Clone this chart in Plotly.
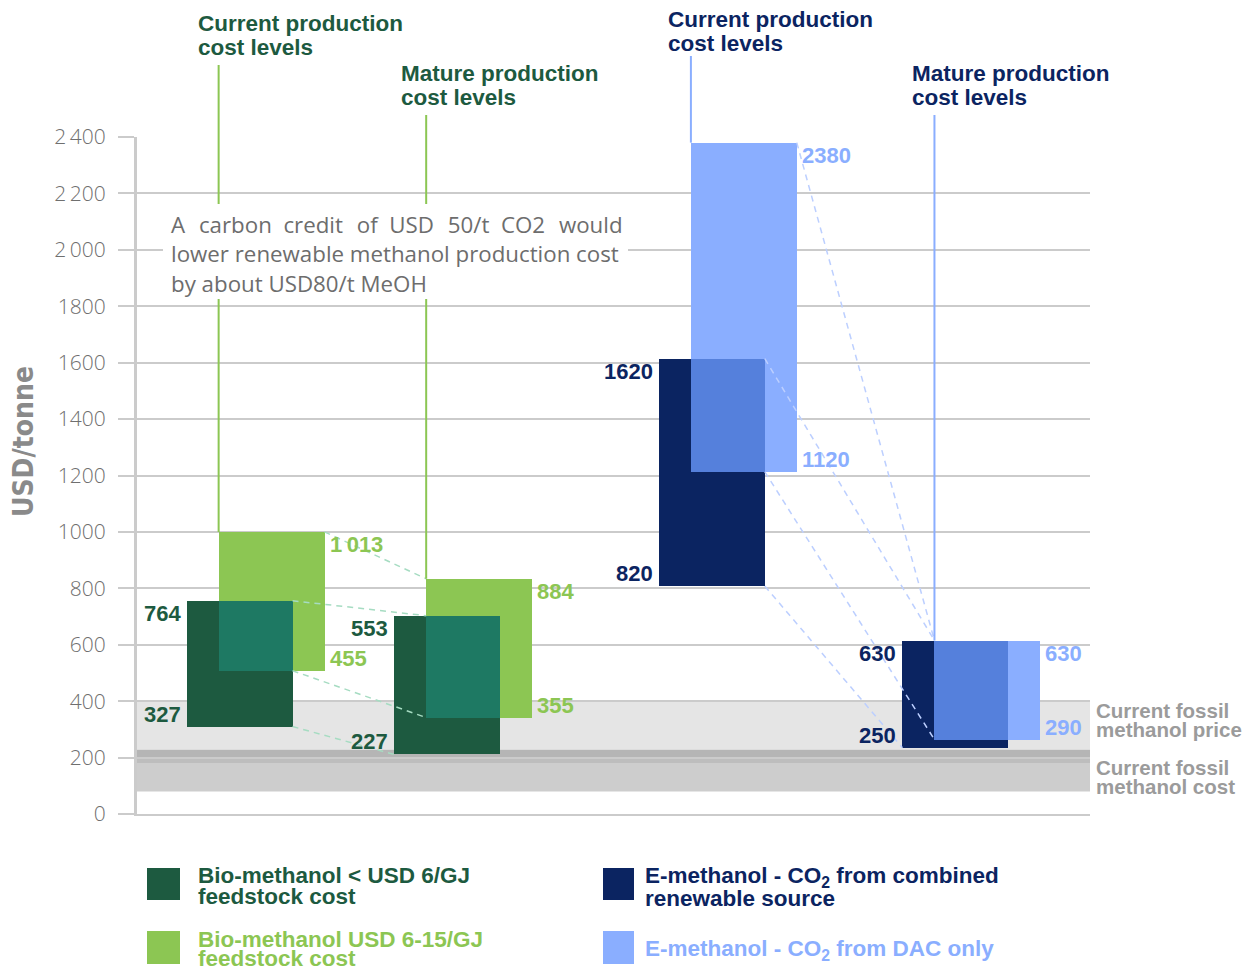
import plotly.graph_objects as go

# ---------------- data ----------------
stages = ["Current production cost levels", "Mature production cost levels"]

# ranges as drawn (USD/tonne) and their printed labels
bio_low_lo = [310, 211]
bio_low_hi = [756, 703]
bio_low_lo_lbl = ["327", "227"]
bio_low_hi_lbl = ["764", "553"]

bio_high_lo = [508, 342]
bio_high_hi = [1000, 834]
bio_high_lo_lbl = ["455", "355"]
bio_high_hi_lbl = ["1\u2009013", "884"]

e_comb_lo = [808, 235]
e_comb_hi = [1614, 615]
e_comb_lo_lbl = ["820", "250"]
e_comb_hi_lbl = ["1620", "630"]

e_dac_lo = [1213, 264]
e_dac_hi = [2380, 615]
e_dac_lo_lbl = ["1120", "290"]
e_dac_hi_lbl = ["2380", "630"]

fossil_price = [228, 400]
fossil_overlap_hi = [196, 228]
fossil_overlap_lo = [178, 196]
fossil_cost = [80, 178]

tick_vals = [0, 200, 400, 600, 800, 1000, 1200, 1400, 1600, 1800, 2000, 2200, 2400]
tick_text = ["0", "200", "400", "600", "800", "1000", "1200", "1400", "1600", "1800",
             "2\u2009000", "2\u2009200", "2\u2009400"]

legend_labels = [
    ["Bio-methanol < USD 6/GJ", "feedstock cost"],
    ["Bio-methanol USD 6-15/GJ", "feedstock cost"],
    ["E-methanol - CO<sub>2</sub> from combined", "renewable source"],
    ["E-methanol - CO<sub>2</sub> from DAC only"],
]
note_words = "A carbon credit of USD 50/t CO2 would".split(" ")
note_line1 = note_words[0]
for k, w in enumerate(note_words[1:]):
    note_line1 += ("\u00a0\u200a " if k % 2 == 0 else "\u00a0 ") + w
note_lines = [note_line1,
              "lower renewable methanol production cost",
              "by about USD80/t MeOH"]

# ---------------- styles / layout ----------------
W, H = 1250, 970
L, R, T, B = 137, 160, 137, 156
YMAX = 2400
XR = (0, 9)
C_DG, C_LG, C_TEAL = "#1d5a40", "#8cc653", "#1e7963"
C_NV, C_LB, C_MB = "#0b2461", "#8aaeff", "#5580dc"
C_GDASH, C_BDASH = "#a6dcc2", "#bccfff"
GRID = "#cbcbcb"

bio_pos = [1.12, 3.08]
e_pos = [5.58, 7.88]
OFF = 0.151
BW = 1.0

FONT = "Liberation Sans, Arial, sans-serif"


def px2x(px):
    return (px - L) / (W - L - R)


def py2y(py):
    return (H - B - py) / (H - T - B)


def d2px(xv):
    return (xv - XR[0]) / (XR[1] - XR[0])


fig = go.Figure()


def add_pair(pos, dlo, dhi, llo, lhi, cdark, clight, cover, name_d, name_l):
    xd = [p - OFF for p in pos]
    xl = [p + OFF for p in pos]
    fig.add_bar(x=xd, y=[h - l for l, h in zip(dlo, dhi)], base=dlo, width=BW,
                marker=dict(color=cdark, line=dict(width=0)), name=name_d)
    fig.add_bar(x=xl, y=[h - l for l, h in zip(llo, lhi)], base=llo, width=BW,
                marker=dict(color=clight, line=dict(width=0)), name=name_l)
    # overlap region
    for i, p in enumerate(pos):
        olo = max(dlo[i], llo[i])
        ohi = min(dhi[i], lhi[i])
        if ohi > olo:
            x0 = xl[i] - BW / 2
            x1 = xd[i] + BW / 2
            fig.add_bar(x=[(x0 + x1) / 2], y=[ohi - olo], base=[olo], width=x1 - x0,
                        marker=dict(color=cover, line=dict(width=0)), showlegend=False)
    return xd, xl


bxd, bxl = add_pair(bio_pos, bio_low_lo, bio_low_hi, bio_high_lo, bio_high_hi,
                    C_DG, C_LG, C_TEAL, "Bio-methanol < USD 6/GJ", "Bio-methanol USD 6-15/GJ")
exd, exl = add_pair(e_pos, e_comb_lo, e_comb_hi, e_dac_lo, e_dac_hi,
                    C_NV, C_LB, C_MB, "E-methanol combined", "E-methanol DAC")


def connectors(xd, xl, dlo, dhi, llo, lhi, color):
    segs = [
        ((xl[0] + BW / 2, lhi[0]), (xl[1] - BW / 2, lhi[1])),
        ((xd[0] + BW / 2, min(dhi[0], lhi[0])), (xl[1] - BW / 2, min(dhi[1], lhi[1]))),
        ((xd[0] + BW / 2, max(dlo[0], llo[0])), (xl[1] - BW / 2, max(dlo[1], llo[1]))),
        ((xd[0] + BW / 2, dlo[0]), (xd[1] - BW / 2, dlo[1])),
    ]
    for a, b in segs:
        fig.add_scatter(x=[a[0], b[0]], y=[a[1], b[1]], mode="lines",
                        line=dict(color=color, width=1.5, dash="6px,5px"),
                        hoverinfo="skip", showlegend=False)


connectors(bxd, bxl, bio_low_lo, bio_low_hi, bio_high_lo, bio_high_hi, C_GDASH)
connectors(exd, exl, e_comb_lo, e_comb_hi, e_dac_lo, e_dac_hi, C_BDASH)

annotations = []


def val_labels(xd, xl, dlo, dhi, llo, lhi, dlo_l, dhi_l, llo_l, lhi_l, cdark, clight):
    for i in range(2):
        for (x, y, t, side, col, left) in [
            (xd[i] - BW / 2, dhi[i], dhi_l[i], "top", cdark, True),
            (xd[i] - BW / 2, dlo[i], dlo_l[i], "bottom", cdark, True),
            (xl[i] + BW / 2, lhi[i], lhi_l[i], "top", clight, False),
            (xl[i] + BW / 2, llo[i], llo_l[i], "bottom", clight, False),
        ]:
            annotations.append(dict(
                x=x, y=y, xref="x", yref="y", text="<b>%s</b>" % t, showarrow=False,
                xanchor="right" if left else "left", yanchor=side,
                xshift=-4 if left else 3, yshift=2 if side == "top" else -2,
                font=dict(family=FONT, size=22, color=col)))


val_labels(bxd, bxl, bio_low_lo, bio_low_hi, bio_high_lo, bio_high_hi,
           bio_low_lo_lbl, bio_low_hi_lbl, bio_high_lo_lbl, bio_high_hi_lbl, C_DG, C_LG)
val_labels(exd, exl, e_comb_lo, e_comb_hi, e_dac_lo, e_dac_hi,
           e_comb_lo_lbl, e_comb_hi_lbl, e_dac_lo_lbl, e_dac_hi_lbl, C_NV, C_LB)

shapes = []
# fossil bands
for (lo, hi), col in [(fossil_price, "#e5e5e5"), (fossil_overlap_hi, "#b5b5b5"),
                      (fossil_overlap_lo, "#bdbdbd"), (fossil_cost, "#cdcdcd")]:
    shapes.append(dict(type="rect", xref="paper", yref="y", x0=0, x1=1, y0=lo, y1=hi,
                       fillcolor=col, line=dict(width=0), layer="between"))

# vertical stage lines (from header to top of the light bar)
vl = [
    (bxl[0] - BW / 2, 65, bio_high_hi[0], C_LG),
    (bxl[1] - BW / 2, 115, bio_high_hi[1], C_LG),
    (exl[0] - BW / 2, 56, e_dac_hi[0], C_LB),
    (exl[1] - BW / 2, 115, e_dac_hi[1], C_LB),
]
for x, ptop, vbot, col in vl:
    xp = d2px(x)
    shapes.append(dict(type="line", xref="paper", yref="paper", x0=xp, x1=xp,
                       y0=py2y(ptop), y1=vbot / YMAX, line=dict(color=col, width=2),
                       layer="above"))
# white box behind note
shapes.append(dict(type="rect", xref="paper", yref="paper", x0=px2x(163), x1=px2x(628),
                   y0=py2y(299), y1=py2y(204), fillcolor="white", line=dict(width=0),
                   layer="above"))

# note text
for i, line in enumerate(note_lines):
    annotations.append(dict(x=px2x(169), y=py2y(224 + i * 29.5), xref="paper", yref="paper",
                            text=line, showarrow=False, xanchor="left", yanchor="middle",
                            font=dict(family="Open Sans, sans-serif", size=22.3, color="#6d6d6d")))

# headers
headers = [
    (198, 23, C_DG, "Current production"), (401, 73, C_DG, "Mature production"),
    (668, 19, C_NV, "Current production"), (912, 73, C_NV, "Mature production"),
]
for px, py, col, first in headers:
    for j, t in enumerate([first, "cost levels"]):
        annotations.append(dict(x=px2x(px - 2), y=py2y(py + j * 24), xref="paper", yref="paper",
                                text="<b>%s</b>" % t, showarrow=False, xanchor="left",
                                yanchor="middle", font=dict(family=FONT, size=22.5, color=col)))

# fossil labels
for py, lines in [(710, ["Current fossil", "methanol price"]), (767, ["Current fossil", "methanol cost"])]:
    for j, t in enumerate(lines):
        annotations.append(dict(x=px2x(1094), y=py2y(py + j * 19), xref="paper", yref="paper",
                                text="<b>%s</b>" % t, showarrow=False, xanchor="left",
                                yanchor="middle", font=dict(family=FONT, size=20.5, color="#9b9b9b")))

# y title
annotations.append(dict(x=px2x(23), y=py2y(442), xref="paper", yref="paper",
                        text="<b>USD/tonne</b>", textangle=-90, showarrow=False,
                        xanchor="center", yanchor="middle",
                        font=dict(family="Liberation Sans Narrow, DejaVu Sans Condensed, Arial", size=28,
                                  color="#8a8a8a")))

# legend
leg = [
    (147, 180, 868, 900, C_DG, 198, [875, 896]),
    (147, 180, 931, 964, C_LG, 198, [939, 958]),
    (603, 634, 868, 900, C_NV, 645, [877, 898]),
    (603, 634, 931, 964, C_LB, 645, [950]),
]
for (x0, x1, y0, y1, col, tx, tys), labels in zip(leg, legend_labels):
    shapes.append(dict(type="rect", xref="paper", yref="paper", x0=px2x(x0), x1=px2x(x1),
                       y0=py2y(y1), y1=py2y(y0), fillcolor=col, line=dict(width=0)))
    for ty, t in zip(tys, labels):
        annotations.append(dict(x=px2x(tx - 2), y=py2y(ty), xref="paper", yref="paper",
                                text="<b>%s</b>" % t, showarrow=False, xanchor="left",
                                yanchor="middle", font=dict(family=FONT, size=22.5, color=col)))

fig.update_layout(
    width=W, height=H, margin=dict(l=L, r=R, t=T, b=B),
    plot_bgcolor="white", paper_bgcolor="white",
    barmode="overlay", bargap=0, showlegend=False,
    shapes=shapes, annotations=annotations,
    xaxis=dict(range=list(XR), showgrid=False, zeroline=False, showticklabels=False,
               ticks="", showline=True, linecolor=GRID, linewidth=2, fixedrange=True),
    yaxis=dict(range=[0, YMAX], tickvals=tick_vals, ticktext=tick_text,
               showgrid=True, gridcolor=GRID, gridwidth=2, zeroline=False,
               showline=True, linecolor=GRID, linewidth=3,
               ticks="outside", ticklen=16, tickwidth=2, tickcolor=GRID,
               ticklabelstandoff=8,
               tickfont=dict(family="Open Sans, sans-serif", size=21, color="#6f6f6f", weight=300)),
)

fig.write_html("out.html", config={"displayModeBar": False},
               post_script="document.body.style.margin='0';")
